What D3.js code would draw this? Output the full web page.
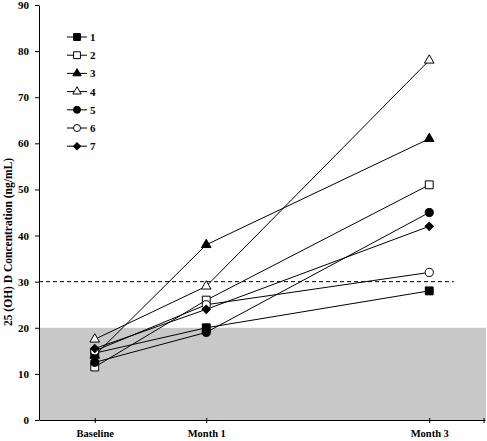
<!DOCTYPE html>
<html><head><meta charset="utf-8">
<script src="https://cdn.jsdelivr.net/npm/d3@7"></script>
<style>body{margin:0;background:#fff}svg{display:block}</style>
</head><body>
<script>
const timepoints = [0, 1, 3];
const xLabels = ["Baseline", "Month 1", "Month 3"];
const seriesNames = ["1", "2", "3", "4", "5", "6", "7"];
const s1 = [14.5, 20, 28];
const s2 = [11.5, 26, 51];
const s3 = [14, 38, 61];
const s4 = [17.5, 29, 78];
const s5 = [12.5, 19, 45];
const s6 = [15, 25, 32];
const s7 = [15.5, 24, 42];
const seriesValues = [s1, s2, s3, s4, s5, s6, s7];
const markerShapes = ["square", "square", "triangle", "triangle", "circle", "circle", "diamond"];
const markerFilled = [true, false, true, false, true, false, true];
const yTicks = [0, 10, 20, 30, 40, 50, 60, 70, 80, 90];
const shadedRange = [0, 20];
const threshold = 30;
const yTitle = "25 (OH) D Concentration (ng/mL)";

const W = 487, H = 441;
const svg = d3.select("body").append("svg").attr("width", W).attr("height", H);
const x = d3.scaleLinear().domain([-0.5, 3.5]).range([39, 485]);
const y = d3.scaleLinear().domain([0, 90]).range([420, 5]);
const font = "'Liberation Serif','Times New Roman',serif";

// shaded band
svg.append("rect")
  .attr("x", x(-0.5)).attr("y", y(shadedRange[1]))
  .attr("width", x(3.5) - x(-0.5) + 1).attr("height", y(shadedRange[0]) - y(shadedRange[1]))
  .attr("fill", "#c8c8c8");

// threshold dashed line
svg.append("line")
  .attr("x1", x(-0.5)).attr("x2", x(3.22))
  .attr("y1", y(threshold)).attr("y2", y(threshold))
  .attr("stroke", "#000").attr("stroke-width", 1).attr("stroke-dasharray", "4,3");

// y axis
const yAxis = svg.append("g").attr("transform", `translate(${x(-0.5)},0)`)
  .call(d3.axisLeft(y).tickValues(yTicks).tickSize(4).tickPadding(6).tickSizeOuter(0));
yAxis.select(".domain").attr("stroke", "#000");
yAxis.selectAll("text").attr("font-family", font).attr("font-weight", "bold").attr("font-size", 11).attr("fill", "#000");

// x axis
const xAxis = svg.append("g").attr("transform", `translate(0,${y(0)})`)
  .call(d3.axisBottom(x).tickValues(timepoints).tickFormat((d, i) => xLabels[i]).tickSize(3).tickPadding(7).tickSizeOuter(0));
xAxis.select(".domain").attr("stroke", "#000");
xAxis.selectAll(".tick line").attr("y1", -2).attr("y2", 3);
xAxis.selectAll("text").attr("font-family", font).attr("font-weight", "bold").attr("font-size", 10.5).attr("fill", "#000");
xAxis.append("line").attr("x1", x(3.5) - 1).attr("x2", x(3.5) - 1).attr("y1", -2).attr("y2", 3).attr("stroke", "#000");

// y title
svg.append("text")
  .attr("transform", `translate(12,${242}) rotate(-90)`)
  .attr("text-anchor", "middle")
  .attr("font-family", font).attr("font-weight", "bold").attr("font-size", 11.5)
  .text(yTitle);

function markerPath(shape, scale) {
  if (shape === "square") return d3.symbol().type(d3.symbolSquare).size(62 * scale)();
  if (shape === "triangle") return d3.symbol().type(d3.symbolTriangle).size(40 * scale)();
  if (shape === "circle") return d3.symbol().type(d3.symbolCircle).size(52 * scale)();
  return d3.symbol().type(d3.symbolSquare).size(34 * scale)();
}
function drawMarker(g, shape, filled, cx, cy, scale) {
  g.append("path")
    .attr("d", markerPath(shape, scale))
    .attr("transform", `translate(${cx},${cy})` + (shape === "diamond" ? " rotate(45)" : ""))
    .attr("fill", filled ? "#000" : "#fff")
    .attr("stroke", "#000").attr("stroke-width", 1);
}

const line = d3.line().x((d, i) => x(timepoints[i])).y(d => y(d));
const plot = svg.append("g");
seriesValues.forEach(vals => {
  plot.append("path").attr("d", line(vals)).attr("fill", "none").attr("stroke", "#000").attr("stroke-width", 1);
});
seriesValues.forEach((vals, si) => {
  vals.forEach((v, i) => drawMarker(plot, markerShapes[si], markerFilled[si], x(timepoints[i]), y(v), 1));
});

// legend
const legend = svg.append("g");
seriesNames.forEach((name, i) => {
  const ly = 37 + i * 18.2;
  legend.append("line").attr("x1", 67).attr("x2", 87).attr("y1", ly).attr("y2", ly).attr("stroke", "#000");
  drawMarker(legend, markerShapes[i], markerFilled[i], 77, ly, 0.75);
  legend.append("text").attr("x", 90).attr("y", ly + 4)
    .attr("font-family", font).attr("font-weight", "bold").attr("font-size", 11).text(name);
});
</script>
</body></html>
